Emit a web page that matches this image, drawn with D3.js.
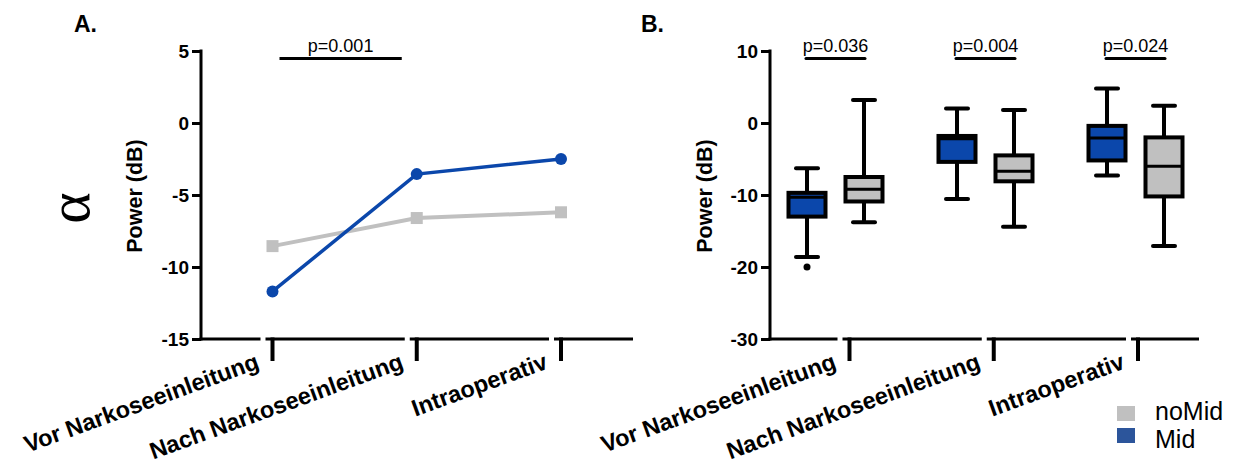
<!DOCTYPE html>
<html><head><meta charset="utf-8">
<script src="https://cdn.jsdelivr.net/npm/d3@7"></script>
<style>
html,body{margin:0;padding:0;background:#fff;}
svg{display:block;}
text{font-family:"Liberation Sans",Arial,sans-serif;}
</style></head>
<body>
<svg id="chart" width="1242" height="466"></svg>
<script>
// ---------- DATA ----------
const categories = ["Vor Narkoseeinleitung", "Nach Narkoseeinleitung", "Intraoperativ"];
const seriesNames = ["noMid", "Mid"];
// Panel A: mean power (dB)
const midMeans = [-11.7, -3.55, -2.5];
const noMidMeans = [-8.55, -6.6, -6.2];
const yTicksA = [5, 0, -5, -10, -15];
const pValueA = "p=0.001";
// Panel B: box stats [min, q1, median, q3, max]
const midStats = [[-18.6, -13.0, -10.3, -9.7, -6.3], [-10.55, -5.4, -2.2, -1.8, 2.0], [-7.3, -5.2, -2.1, -0.4, 4.8]];
const noMidStats = [[-13.8, -10.9, -9.2, -7.5, 3.2], [-14.4, -8.1, -6.7, -4.5, 1.8], [-17.1, -10.2, -6.0, -2.0, 2.4]];
const midOutliers = [[-20.0], [], []];
const noMidOutliers = [[], [], []];
const yTicksB = [10, 0, -10, -20, -30];
const pValuesB = ["p=0.036", "p=0.004", "p=0.024"];

// ---------- STYLE ----------
const BLUE = "#0b47ab", GRAY = "#c0c0c0", LEG_BLUE = "#2c559b";
const svg = d3.select("#chart");

function drawYAxis(y, x0, ticks) {
  const g = svg.append("g").attr("transform", `translate(${x0},0)`);
  g.call(d3.axisLeft(y).tickValues(ticks).tickSize(9).tickPadding(3).tickFormat(d3.format("d")));
  g.select(".domain").remove();
  g.selectAll(".tick line").attr("stroke", "#000").attr("stroke-width", 3);
  g.selectAll(".tick text").attr("fill", "#000").attr("font-size", 19).attr("font-weight", "bold")
    .attr("dy", "0.36em").text(d => d < 0 ? "-" + Math.abs(d) : d);
  g.append("line").attr("x1", 0).attr("x2", 0)
    .attr("y1", y.range()[1] - 1.5).attr("y2", y.range()[0] + 1.5)
    .attr("stroke", "#000").attr("stroke-width", 3);
}

function drawXAxis(xTick, x0, x1, yBase) {
  const g = svg.append("g");
  const ticks = categories.map(c => xTick(c));
  // segmented baseline with small breaks left of each tick
  let segs = [], start = x0;
  ticks.forEach(t => { segs.push([start, t - 12]); start = t - 7; });
  segs.push([start, x1]);
  g.selectAll("line.seg").data(segs).join("line").attr("class", "seg")
    .attr("x1", d => d[0]).attr("x2", d => d[1]).attr("y1", yBase).attr("y2", yBase)
    .attr("stroke", "#000").attr("stroke-width", 3);
  g.selectAll("line.tk").data(categories).join("line").attr("class", "tk")
    .attr("x1", d => xTick(d)).attr("x2", d => xTick(d))
    .attr("y1", yBase - 1.5).attr("y2", yBase + 22)
    .attr("stroke", "#000").attr("stroke-width", 4);
  g.selectAll("text").data(categories).join("text")
    .attr("transform", d => `translate(${xTick(d) - 12},${yBase + 29}) rotate(-20)`)
    .attr("text-anchor", "end").attr("font-size", 23.5).attr("font-weight", "bold").attr("fill", "#000")
    .text(d => d);
}

// ---------- PANEL A ----------
const yA = d3.scaleLinear().domain([-15, 5]).range([339, 51]);
const xA = d3.scalePoint().domain(categories).range([272.5, 561]);
drawYAxis(yA, 201, yTicksA);
drawXAxis(xA, 199.5, 633, 339);

const lineA = d3.line().x((d, i) => xA(categories[i])).y(d => yA(d));
svg.append("path").datum(noMidMeans).attr("d", lineA).attr("fill", "none").attr("stroke", GRAY).attr("stroke-width", 4);
svg.append("path").datum(midMeans).attr("d", lineA).attr("fill", "none").attr("stroke", BLUE).attr("stroke-width", 3.5);
svg.selectAll("rect.nm").data(noMidMeans).join("rect").attr("class", "nm")
  .attr("x", (d, i) => xA(categories[i]) - 6).attr("y", d => yA(d) - 6)
  .attr("width", 12).attr("height", 12).attr("fill", GRAY);
svg.selectAll("circle.m").data(midMeans).join("circle").attr("class", "m")
  .attr("cx", (d, i) => xA(categories[i])).attr("cy", d => yA(d)).attr("r", 6).attr("fill", BLUE);

// significance A
const pA1 = xA(categories[0]) + 7, pA2 = xA(categories[1]) - 15;
svg.append("line").attr("x1", pA1).attr("x2", pA2).attr("y1", 58.5).attr("y2", 58.5).attr("stroke", "#000").attr("stroke-width", 3);
svg.append("text").attr("x", (pA1 + pA2) / 2).attr("y", 52).attr("text-anchor", "middle")
  .attr("font-size", 18).attr("fill", "#000").text(pValueA);

// labels A
svg.append("text").attr("x", 74).attr("y", 32).attr("font-size", 23).attr("font-weight", "bold").text("A.");
svg.append("text").attr("transform", "translate(142,196) rotate(-90)").attr("text-anchor", "middle")
  .attr("font-size", 21.5).attr("font-weight", "bold").text("Power (dB)");
svg.append("text").attr("transform", "translate(89,208) rotate(-90)").attr("text-anchor", "middle")
  .style("font-family", "'Liberation Serif','DejaVu Serif',serif").attr("font-size", 60).text("α");

// ---------- PANEL B ----------
const yB = d3.scaleLinear().domain([-30, 10]).range([339, 51]);
const xGroup = d3.scalePoint().domain(categories).range([835.5, 1135.5]);
const xTickB = d3.scalePoint().domain(categories).range([849.5, 1138]);
const xSeries = d3.scaleBand().domain(["Mid", "noMid"]).range([-57, 57]);
drawYAxis(yB, 770, yTicksB);
drawXAxis(xTickB, 768.5, 1199, 339);

const boxW = 37, capW = 22;
function drawBoxes(stats, outliers, name, fill) {
  const cx = i => xGroup(categories[i]) + xSeries(name) + xSeries.bandwidth() / 2;
  const g = svg.append("g");
  stats.forEach((s, i) => {
    const x = cx(i);
    g.append("line").attr("x1", x).attr("x2", x).attr("y1", yB(s[4])).attr("y2", yB(s[0])).attr("stroke", "#000").attr("stroke-width", 4);
    [s[0], s[4]].forEach(v => g.append("line").attr("x1", x - capW / 2).attr("x2", x + capW / 2)
      .attr("y1", yB(v)).attr("y2", yB(v)).attr("stroke", "#000").attr("stroke-width", 4).attr("stroke-linecap", "round"));
    g.append("rect").attr("x", x - boxW / 2).attr("y", yB(s[3])).attr("width", boxW).attr("height", yB(s[1]) - yB(s[3]))
      .attr("fill", fill).attr("stroke", "#000").attr("stroke-width", 4);
    g.append("line").attr("x1", x - boxW / 2).attr("x2", x + boxW / 2).attr("y1", yB(s[2])).attr("y2", yB(s[2]))
      .attr("stroke", "#000").attr("stroke-width", 3);
    outliers[i].forEach(v => g.append("circle").attr("cx", x).attr("cy", yB(v)).attr("r", 3.5).attr("fill", "#000"));
  });
}
drawBoxes(midStats, midOutliers, "Mid", BLUE);
drawBoxes(noMidStats, noMidOutliers, "noMid", GRAY);

// significance B
pValuesB.forEach((p, i) => {
  const a = xGroup(categories[i]) + xSeries("Mid") + xSeries.bandwidth() / 2 - 1;
  const b = xGroup(categories[i]) + xSeries("noMid") + xSeries.bandwidth() / 2 + 1;
  svg.append("line").attr("x1", a).attr("x2", b).attr("y1", 58.5).attr("y2", 58.5).attr("stroke", "#000").attr("stroke-width", 3).attr("stroke-linecap", "round");
  svg.append("text").attr("x", (a + b) / 2).attr("y", 52).attr("text-anchor", "middle").attr("font-size", 18).text(p);
});

svg.append("text").attr("x", 641).attr("y", 32).attr("font-size", 23).attr("font-weight", "bold").text("B.");
svg.append("text").attr("transform", "translate(712,196) rotate(-90)").attr("text-anchor", "middle")
  .attr("font-size", 21.5).attr("font-weight", "bold").text("Power (dB)");

// legend
const legColors = { noMid: GRAY, Mid: LEG_BLUE };
const leg = svg.append("g");
seriesNames.forEach((n, i) => {
  leg.append("rect").attr("x", 1117).attr("y", 406 + i * 22).attr("width", 18).attr("height", 15).attr("fill", legColors[n]);
  leg.append("text").attr("x", 1155).attr("y", 420 + i * 28).attr("font-size", 25).attr("fill", "#000").text(n);
});
</script>
</body></html>
